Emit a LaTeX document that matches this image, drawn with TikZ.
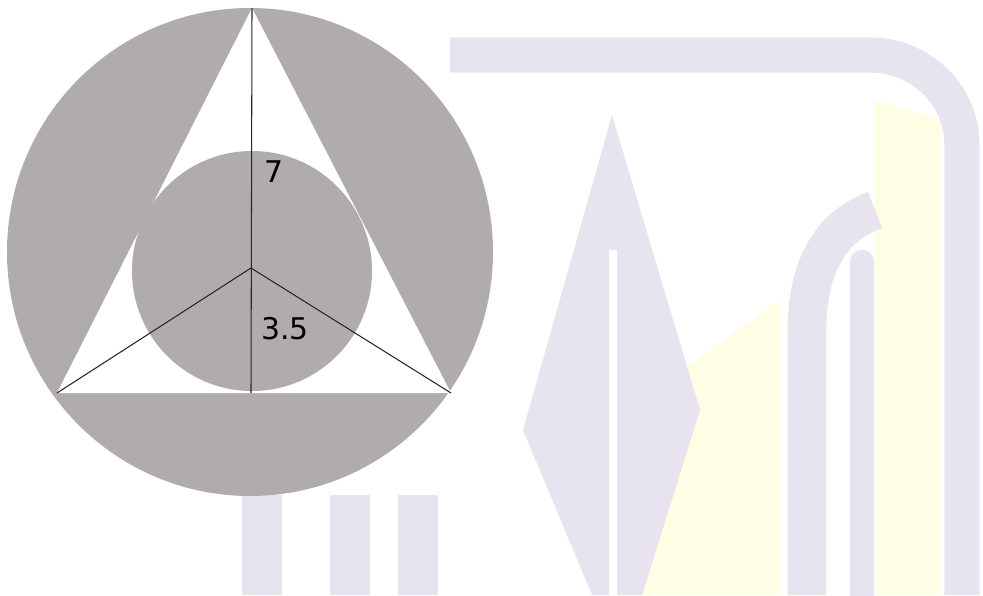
\documentclass[tikz,border=0pt]{standalone}
\usepackage{fontspec}
\setsansfont{DejaVu Sans}
\definecolor{disc}{RGB}{176,172,171}
\definecolor{logo}{RGB}{231,228,239}
\definecolor{logoyellow}{RGB}{254,254,228}
\begin{document}
\begin{tikzpicture}[x=0.02cm, y=-0.02cm]
    \useasboundingbox (0,0) rectangle (983,595);

    % faint logo in the background
    \fill[logoyellow] (640,400) -- (780,300) -- (780,595) -- (620,595) -- cycle;
    \fill[logoyellow] (875,100) -- (940,120) -- (940,595) -- (875,595) -- cycle;
    \draw[logo, line width=20pt] (450,55) -- (870,55) to[out=0,in=90] (962,145) -- (962,595);
    \fill[logo] (612,115) -- (700,410) -- (642,595) -- (592,595) -- (523,430) -- cycle;
    \draw[white, line width=5pt] (613,250) -- (613,595);
    \draw[logo, line width=22pt] (875,210) to[out=200,in=90] (807,330) -- (807,595);
    \draw[logo, line width=14pt, line cap=round] (862,262) -- (862,595);
    \fill[logo] (242,495) rectangle (282,595);
    \fill[logo] (330,495) rectangle (370,595);
    \fill[logo] (398,495) rectangle (438,595);

    % disc with triangle and inner circle
    \fill[disc] (250,252) ellipse (243 and 244);
    \coordinate (top) at (252,8);
    \coordinate (left) at (57,393);
    \coordinate (right) at (451,393);
    \coordinate (centre) at (251,268);
    \coordinate (foot) at (251,393);
    \fill[white] (top) -- (left) -- (right) -- cycle;
    \fill[disc] (252,271) circle (120);

    \draw[black!85, line width=0.6pt] (top) -- (foot);
    \draw[black!85, line width=0.6pt] (left) -- (centre) -- (right);

    \node[font=\sffamily\fontsize{17}{20}\selectfont] (bigr) at (274,172) {7};
    \node[font=\sffamily\fontsize{17}{20}\selectfont] (smallr) at (285,329) {3.5};
\end{tikzpicture}
\end{document}
